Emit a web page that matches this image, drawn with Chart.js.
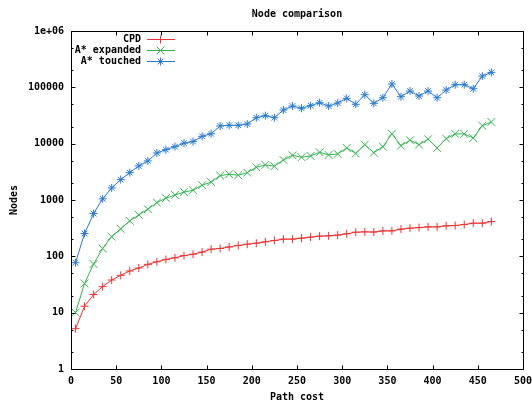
<!DOCTYPE html>
<html>
<head>
<meta charset="utf-8">
<script src="https://cdn.jsdelivr.net/npm/chart.js@4"></script>
<style>
  html, body { margin: 0; padding: 0; background: #fff; }
  #wrap { width: 532px; height: 403px; }
</style>
</head>
<body>
<div id="wrap"><canvas id="myChart" width="532" height="403"></canvas></div>
<script>
// path cost (x) for every sample
const pathCost = [5, 15, 25, 35, 45, 55, 65, 75, 85, 95, 105, 115, 125, 135, 145, 155,
    165, 175, 185, 195, 205, 215, 225, 235, 245, 255, 265, 275, 285, 295, 305, 315,
    325, 335, 345, 355, 365, 375, 385, 395, 405, 415, 425, 435, 445, 455, 465];

// nodes
const cpd = [5.2, 13, 21, 29, 38, 46, 55, 62, 72, 80, 88, 94, 103, 109, 119, 134,
    138, 147, 156, 164, 171, 181, 191, 202, 202, 210, 219, 228, 231, 238, 251, 268,
    272, 270, 283, 283, 304, 316, 324, 333, 333, 348, 352, 367, 388, 388, 414];
const astarExpanded = [10, 33, 73, 138, 224, 307, 426, 544, 687, 900, 1080, 1230, 1380, 1490, 1830, 2070,
    2710, 2870, 2750, 3060, 3820, 4190, 3970, 5140, 6220, 5740, 6050, 7040, 6310, 6560, 8390, 6700,
    9600, 6920, 8850, 15000, 9220, 11500, 9600, 12000, 8390, 12300, 14900, 14900, 12600, 20800, 24300];
const astarTouched = [77, 254, 574, 1050, 1640, 2300, 3060, 4030, 4940, 6840, 7830, 8850, 10200, 10900, 13500, 15000,
    20600, 21200, 21200, 22300, 28900, 31400, 28900, 39600, 46600, 42500, 47200, 53300, 46600, 52700, 63800, 50000,
    74000, 52000, 65400, 114500, 68100, 85900, 70100, 85900, 65400, 89600, 111300, 111300, 94400, 158600, 184400];

const seriesNames = ['CPD', 'A* expanded', 'A* touched'];
const seriesColors = ['rgb(238,52,52)', 'rgb(50,180,80)', 'rgb(40,122,210)'];
const xTicks = [0, 50, 100, 150, 200, 250, 300, 350, 400, 450, 500];
const yTicks = [1, 10, 100, 1000, 10000, 100000, 1000000];

const FONT = "'DejaVu Sans Mono', 'Liberation Mono', monospace";

function pts(ys) {
    return pathCost.map((x, i) => ({x: x, y: ys[i]}));
}

// gnuplot style frame: box + inward ticks on all four sides
const framePlugin = {
    id: 'frame',
    afterDatasetsDraw(chart) {
        const ctx = chart.ctx;
        const a = chart.chartArea;
        const xs = chart.scales.x, ys = chart.scales.y;
        ctx.save();
        ctx.strokeStyle = '#000';
        ctx.lineWidth = 1;
        ctx.beginPath();
        const L = Math.round(a.left) + 0.5, R = Math.round(a.right) + 0.5;
        const T = Math.round(a.top) + 0.5, B = Math.round(a.bottom) + 0.5;
        ctx.rect(L, T, R - L, B - T);
        xTicks.forEach(v => {
            const px = Math.round(xs.getPixelForValue(v)) + 0.5;
            ctx.moveTo(px, B); ctx.lineTo(px, B - 4);
            ctx.moveTo(px, T); ctx.lineTo(px, T + 4);
        });
        yTicks.forEach((v, i) => {
            const py = Math.round(ys.getPixelForValue(v)) + 0.5;
            ctx.moveTo(L, py); ctx.lineTo(L + 4, py);
            ctx.moveTo(R, py); ctx.lineTo(R - 4, py);
            if (i < yTicks.length - 1) {
                [2, 5].forEach(m => {
                    const pm = Math.round(ys.getPixelForValue(v * m)) + 0.5;
                    ctx.moveTo(L, pm); ctx.lineTo(L + 2, pm);
                    ctx.moveTo(R, pm); ctx.lineTo(R - 2, pm);
                });
            }
        });
        ctx.stroke();
        ctx.restore();
    }
};

// key in the top left corner, text right aligned, sample on the right
const keyPlugin = {
    id: 'key',
    afterDatasetsDraw(chart) {
        const ctx = chart.ctx;
        ctx.save();
        ctx.font = 'bold 10px ' + FONT;
        ctx.textAlign = 'right';
        ctx.textBaseline = 'middle';
        chart.data.datasets.forEach((ds, i) => {
            const y = 39 + i * 11;
            ctx.fillStyle = '#000';
            ctx.fillText(ds.label, 141, y);
            // sample line
            ctx.fillStyle = seriesColors[i];
            ctx.fillRect(147, y, 28, 1);
            ctx.strokeStyle = seriesColors[i];
            ctx.lineWidth = 1;
            Chart.helpers.drawPoint(ctx, {
                pointStyle: ds.pointStyle, radius: ds.pointRadius, borderWidth: 1, rotation: 0
            }, 160.5, y + 0.5);
        });
        ctx.restore();
    }
};

const myChart = new Chart(document.getElementById('myChart').getContext('2d'), {
    type: 'line',
    data: {
        datasets: [{
            label: seriesNames[0],
            data: pts(cpd),
            borderColor: seriesColors[0],
            backgroundColor: seriesColors[0],
            pointStyle: 'cross',
            pointRadius: 4,
            borderWidth: 1,
            pointBorderWidth: 1,
        }, {
            label: seriesNames[1],
            data: pts(astarExpanded),
            borderColor: seriesColors[1],
            backgroundColor: seriesColors[1],
            pointStyle: 'crossRot',
            pointRadius: 5.5,
            borderWidth: 1,
            pointBorderWidth: 1,
        }, {
            label: seriesNames[2],
            data: pts(astarTouched),
            borderColor: seriesColors[2],
            backgroundColor: seriesColors[2],
            pointStyle: 'star',
            pointRadius: 4,
            borderWidth: 1,
            pointBorderWidth: 1,
        }]
    },
    options: {
        responsive: false,
        animation: false,
        layout: {padding: {right: 9}},
        scales: {
            x: {
                type: 'linear',
                min: 0, max: 500,
                grid: {display: false, drawTicks: false},
                border: {display: false},
                afterBuildTicks: s => { s.ticks = xTicks.map(v => ({value: v})); },
                afterFit: s => { s.height = 34; s.paddingLeft = 0; s.paddingRight = 0; },
                ticks: {
                    autoSkip: false, maxRotation: 0, padding: 6,
                    color: '#000', font: {family: FONT, size: 10, weight: 'bold'},
                },
                title: {
                    display: true, text: 'Path cost', color: '#000',
                    padding: {top: 0, bottom: 0},
                    font: {family: FONT, size: 10, weight: 'bold'},
                },
            },
            y: {
                type: 'logarithmic',
                min: 1, max: 1000000,
                grid: {display: false, drawTicks: false},
                border: {display: false},
                afterBuildTicks: s => { s.ticks = yTicks.map(v => ({value: v})); },
                afterFit: s => { s.width = 71; s.paddingTop = 0; s.paddingBottom = 0; },
                ticks: {
                    autoSkip: false, padding: 7,
                    color: '#000', font: {family: FONT, size: 10, weight: 'bold'},
                    callback: v => (v === 1000000 ? '1e+06' : String(v)),
                },
                title: {
                    display: true, text: 'Nodes', color: '#000',
                    padding: {top: 8, bottom: 0},
                    font: {family: FONT, size: 10, weight: 'bold'},
                },
            },
        },
        plugins: {
            legend: {display: false},
            tooltip: {enabled: false},
            title: {
                display: true,
                text: 'Node comparison',
                color: '#000',
                fullSize: false,
                padding: {top: 8, bottom: 11},
                font: {family: FONT, size: 10, weight: 'bold'},
            },
        },
    },
    plugins: [framePlugin, keyPlugin],
});
</script>
</body>
</html>
